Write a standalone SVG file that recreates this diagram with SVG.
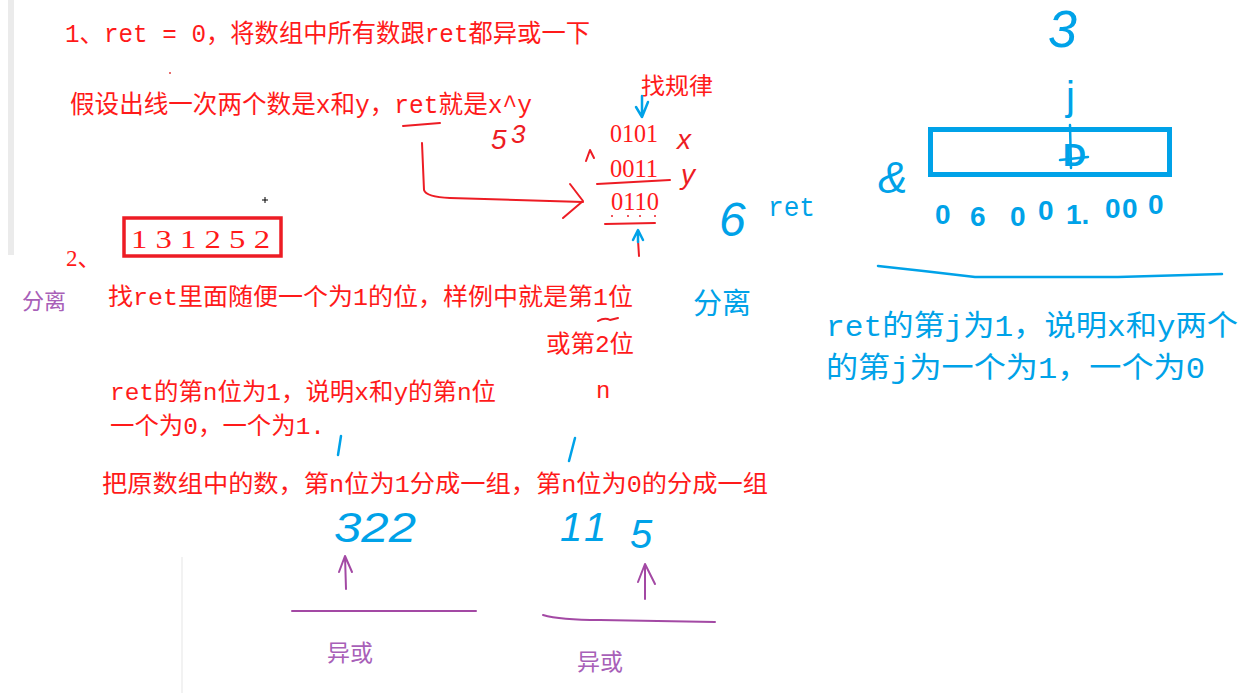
<svg xmlns="http://www.w3.org/2000/svg" width="1251" height="693" viewBox="0 0 1251 693">
<style>
.rt{fill:#ff1a1a;font-family:"Liberation Mono","Noto Sans CJK SC",monospace;}
.rn{fill:#ff1a1a;font-family:"Liberation Serif","Noto Sans CJK SC",serif;}
.bt{fill:#00a2e8;font-family:"Liberation Mono","Noto Sans CJK SC",monospace;}
.pt{fill:#a860b8;font-family:"Noto Sans CJK SC",sans-serif;}
.hw{font-family:"Liberation Sans","DejaVu Sans",sans-serif;fill:#00a2e8;}
.hr{font-family:"Liberation Sans","DejaVu Sans",sans-serif;fill:#ed1c24;font-style:italic;}
.rs{fill:none;stroke:#ed1c24;stroke-width:2;stroke-linecap:round;stroke-linejoin:round;}
.bs{fill:none;stroke:#00a2e8;stroke-width:2.5;stroke-linecap:round;stroke-linejoin:round;}
.ps{fill:none;stroke:#a349a4;stroke-width:2;stroke-linecap:round;stroke-linejoin:round;}
</style>
<rect width="1251" height="693" fill="#ffffff"/>
<rect x="8" y="0" width="6" height="255" fill="#ebebeb"/>
<line x1="182" y1="557" x2="182" y2="693" stroke="#eeeeee" stroke-width="1.5"/>
<circle cx="170" cy="73" r="1" fill="#e04040"/>
<path d="M262,200 h6 M265,197 v6" stroke="#000" stroke-width="1"/>

<g id="step1">
<text class="rt" x="65" y="42" font-size="25" textLength="525" lengthAdjust="spacingAndGlyphs">1、ret = 0，将数组中所有数跟ret都异或一下</text>
<text class="rt" x="70" y="113" font-size="25" textLength="462" lengthAdjust="spacingAndGlyphs">假设出线一次两个数是x和y，ret就是x^y</text>
<path class="rs" d="M403,126 L440,123"/>
<text class="hr" x="491" y="149" font-size="28">5</text>
<text class="hr" x="511" y="143" font-size="26" font-style="normal">3</text>
</g>

<g id="xor-example">
<text class="rt" x="641" y="94" font-size="23" textLength="72" lengthAdjust="spacingAndGlyphs">找规律</text>
<text class="rn" x="610" y="142" font-size="25" textLength="48" lengthAdjust="spacingAndGlyphs">0101</text>
<text class="rn" x="610" y="177" font-size="25" textLength="48" lengthAdjust="spacingAndGlyphs">0011</text>
<text class="rn" x="611" y="210" font-size="25" textLength="48" lengthAdjust="spacingAndGlyphs">0110</text>
<path class="rs" d="M597,184 L670,180"/>
<path class="rs" d="M605,224 L655,223"/>
<g fill="#ed1c24"><circle cx="612" cy="216" r="1"/><circle cx="628" cy="216" r="1"/><circle cx="640" cy="216" r="1"/><circle cx="655" cy="216" r="1"/></g>
<path class="rs" d="M586,161 L590,150 L594,158"/>
<text class="hr" x="677" y="149" font-size="28">x</text>
<text class="hr" x="681" y="184" font-size="28">y</text>
<text class="hw" x="719" y="236" font-size="48" font-style="italic">6</text>
<text class="bt" x="768" y="216" font-size="27" textLength="47" lengthAdjust="spacingAndGlyphs">ret</text>
</g>

<g id="array-box">
<rect x="124" y="218" width="157" height="38" fill="none" stroke="#ed1c24" stroke-width="3.5"/>
<text class="rn" x="131" y="248" font-size="26" textLength="139" lengthAdjust="spacingAndGlyphs">1 3 1 2 5 2</text>
</g>

<g id="step2">
<text class="rn" x="66" y="266" font-size="23">2、</text>
<text class="pt" x="22" y="309" font-size="22">分离</text>
<text class="rt" x="108" y="305" font-size="24" textLength="525" lengthAdjust="spacingAndGlyphs">找ret里面随便一个为1的位，样例中就是第1位</text>
<path class="rs" d="M598,321 Q605,317 610,320 L618,318"/>
<text class="rt" x="546" y="352" font-size="24" textLength="88" lengthAdjust="spacingAndGlyphs">或第2位</text>
<text class="rt" x="110" y="400" font-size="24" textLength="386" lengthAdjust="spacingAndGlyphs">ret的第n位为1，说明x和y的第n位</text>
<text class="rt" x="596" y="398" font-size="24">n</text>
<text class="rt" x="110" y="434" font-size="24" textLength="215" lengthAdjust="spacingAndGlyphs">一个为0，一个为1.</text>
<text class="rt" x="102" y="492" font-size="24" textLength="666" lengthAdjust="spacingAndGlyphs">把原数组中的数，第n位为1分成一组，第n位为0的分成一组</text>
</g>

<g id="group-ones">
<text class="hw" x="334" y="542" font-size="42" font-style="italic" textLength="82" lengthAdjust="spacingAndGlyphs">322</text>
<text class="pt" x="327" y="661" font-size="23">异或</text>
</g>
<g id="group-zeros">
<text class="hw" font-size="40" font-style="italic"><tspan x="560" y="541">1</tspan><tspan x="584" y="541">1</tspan><tspan x="630" y="548">5</tspan></text>
<text class="pt" x="577" y="670" font-size="23">异或</text>
</g>

<g id="bit-box">
<text class="hw" x="1048" y="47" font-size="52" font-style="italic">3</text>
<text class="hw" x="1066" y="110" font-size="40">j</text>
<rect x="930.5" y="129.5" width="239" height="45" fill="none" stroke="#00a2e8" stroke-width="5"/>
<text class="hw" x="1063" y="166" font-size="32" font-weight="bold">D</text>
<path class="bs" d="M1070,125 L1071,168 M1060,160 L1088,157"/>
<text class="hw" x="878" y="193" font-size="44" font-style="italic">&amp;</text>
<text class="hw" font-size="28" font-weight="bold"><tspan x="935" y="224">0</tspan><tspan x="970" y="226">6</tspan><tspan x="1010" y="226">0</tspan><tspan x="1038" y="220">0</tspan><tspan x="1066" y="224">1.</tspan><tspan x="1105" y="218">0</tspan><tspan x="1122" y="218">0</tspan><tspan x="1148" y="214">0</tspan></text>
<path class="bs" d="M878,266 Q925,271 975,277 L1118,277 L1222,274" stroke-width="3.5"/>
<text class="bt" x="693" y="314" font-size="29" font-family="Noto Sans CJK SC">分离</text>
<text class="bt" x="826" y="336" font-size="29" textLength="412" lengthAdjust="spacingAndGlyphs">ret的第j为1，说明x和y两个</text>
<text class="bt" x="826" y="378" font-size="29" textLength="379" lengthAdjust="spacingAndGlyphs">的第j为一个为1，一个为0</text>
</g>

<g id="connectors">
<path class="rs" d="M422,143 L424,190 Q426,197 450,198 L583,202"/>
<path class="rs" d="M570,184 L583,201 L563,218"/>
<path class="bs" d="M642,96 L642,117 M636,107 L642,117 L648,102" stroke-width="2"/>
<path class="rs" d="M638,240 L639,256"/>
<path class="bs" d="M633,240 L638,230 L643,240 M638,231 L638,242" stroke-width="2"/>
<path class="bs" d="M341,436 L338,455" stroke-width="2"/>
<path class="bs" d="M575,438 L569,461" stroke-width="2"/>
<path class="ps" d="M346,589 L345,556 M339,572 L345,556 L352,572"/>
<path class="ps" d="M292,611 L476,611"/>
<path class="ps" d="M645,599 L645,564 M638,582 L645,564 L655,584"/>
<path class="ps" d="M543,615 Q560,620 600,620 L715,622"/>
</g>
</svg>
